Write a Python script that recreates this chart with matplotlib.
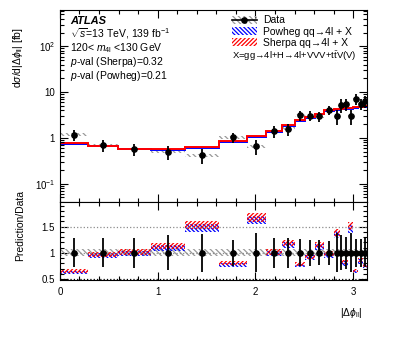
import numpy as np
import matplotlib
matplotlib.use('Agg')
import matplotlib.pyplot as plt
from matplotlib.patches import Patch
from matplotlib.lines import Line2D
from matplotlib.ticker import MultipleLocator, FuncFormatter, LogLocator, NullFormatter

plt.rcParams['font.family'] = ['Liberation Sans', 'DejaVu Sans']
plt.rcParams['mathtext.fontset'] = 'custom'
plt.rcParams['mathtext.rm'] = 'Liberation Sans'
plt.rcParams['mathtext.it'] = 'Liberation Sans:italic'
plt.rcParams['mathtext.bf'] = 'Liberation Sans:bold'
plt.rcParams['hatch.linewidth'] = 0.9

# bin edges in |dphi_ll|
edges = [0, 0.29, 0.59, 0.93, 1.28, 1.63, 1.91, 2.11, 2.27, 2.40, 2.51,
         2.61, 2.70, 2.80, 2.86, 2.90, 2.95, 3.00, 3.05, 3.10, np.pi]
data = [1.17, 0.69, 0.576, 0.50, 0.413, 1.04, 0.655, 1.39, 1.58, 3.09,
        3.05, 2.96, 4.06, 3.04, 5.24, 5.43, 3.01, 7.08, 5.53, 6.32]
stat = [0.28, 0.28, 0.29, 0.33, 0.36, 0.25, 0.37, 0.29, 0.29, 0.26,
        0.25, 0.24, 0.23, 0.37, 0.33, 0.30, 0.37, 0.27, 0.27, 0.28]
syst = [0.07] * 20
sherpa = [0.763, 0.671, 0.586, 0.565, 0.631, 0.834, 1.098, 1.414, 1.881, 2.42,
          2.858, 3.387, 4.007, 4.21, 4.373, 4.475, 4.526, 4.678, 4.78, 4.882]
powheg = [0.737, 0.649, 0.566, 0.547, 0.609, 0.806, 1.062, 1.366, 1.819, 2.34,
          2.762, 3.273, 3.873, 4.07, 4.227, 4.325, 4.374, 4.522, 4.62, 4.718]
pred_unc = 0.05

edges = np.array(edges)
data = np.array(data)
stat = np.array(stat)
syst = np.array(syst)
sherpa = np.array(sherpa)
powheg = np.array(powheg)
centers = 0.5 * (edges[1:] + edges[:-1])
widths = edges[1:] - edges[:-1]

fig = plt.figure(figsize=(3.99, 3.37), dpi=100)
ax = fig.add_axes([0.150, 0.401, 0.770, 0.569])
rx = fig.add_axes([0.150, 0.169, 0.770, 0.232], sharex=ax)

grey_hatch = '\\' * 6
blue_hatch = '\\' * 8
red_hatch = '/' * 8

# main panel
ax.bar(centers, 2 * syst * data, widths, bottom=data * (1 - syst), fill=False,
       edgecolor='0.6', linewidth=0, hatch=grey_hatch)
ax.stairs(powheg, edges, baseline=None, color='blue', lw=1.4)
ax.stairs(sherpa, edges, baseline=None, color='red', lw=1.4)
ax.errorbar(centers, data, yerr=stat * data, fmt='o', color='black', ms=3.8,
            elinewidth=1.3, capsize=0)

ax.set_yscale('log')
ax.set_ylim(0.04, 620)
ax.set_xlim(0, np.pi)
labs = {100: '$10^{2}$', 10: '10', 1: '1', 0.1: '$10^{-1}$'}
ax.yaxis.set_major_locator(LogLocator(base=10, numticks=10))
ax.yaxis.set_minor_locator(LogLocator(base=10, subs=np.arange(2, 10), numticks=20))
ax.yaxis.set_major_formatter(FuncFormatter(lambda v, p: labs.get(round(v, 3), '')))
ax.yaxis.set_minor_formatter(NullFormatter())
ax.set_ylabel('d$\\sigma$/d|$\\Delta\\phi_{\\mathrm{ll}}$| [fb]', fontsize=7.5)
ax.yaxis.set_label_coords(-0.114, 0.755)

ax.text(0.033, 0.944, 'ATLAS', transform=ax.transAxes, fontsize=8,
        fontweight='bold', fontstyle='italic', va='center')
info = ['$\\sqrt{s}$=13 TeV, 139 fb$^{-1}$',
        '120< $m_{4\\mathrm{l}}$ <130 GeV',
        '$p$-val (Sherpa)=0.32',
        '$p$-val (Powheg)=0.21']
for i, t in enumerate(info):
    ax.text(0.033, 0.878 - i * 0.074, t, transform=ax.transAxes, fontsize=7.5, va='center')

h_data = (Patch(facecolor='none', edgecolor='0.6', linewidth=0, hatch=grey_hatch),
          Line2D([], [], color='black', marker='o', ms=3.8, lw=1.2))
h_pow = Patch(facecolor='none', edgecolor='blue', linewidth=0, hatch=blue_hatch)
h_she = Patch(facecolor='none', edgecolor='red', linewidth=0, hatch=red_hatch)
ax.legend([h_data, h_pow, h_she],
          ['Data', 'Powheg qq\u21924l + X', 'Sherpa qq\u21924l + X'],
          loc='upper left', bbox_to_anchor=(0.559, 0.972), frameon=False,
          fontsize=7.5, handlelength=2.4, handleheight=0.8, handletextpad=0.6,
          labelspacing=0.12, borderpad=0, borderaxespad=0)
ax.text(0.559, 0.762, 'X=gg\u21924l+H\u21924l+VVV+t$\\bar{\\mathrm{t}}$V(V)',
        transform=ax.transAxes, fontsize=6.8, va='center')

# ratio panel
rx.axhline(1.5, ls=':', color='0.55', lw=0.9)
rx.axhline(1.0, ls=':', color='0.55', lw=0.9)
rx.axhline(0.5, ls=':', color='black', lw=0.9)
rx.bar(centers, 2 * syst, widths, bottom=1 - syst, fill=False,
       edgecolor='0.6', linewidth=0, hatch=grey_hatch)
r_pow = powheg / data
r_she = sherpa / data
rx.bar(centers, 2 * pred_unc * r_pow, widths, bottom=r_pow * (1 - pred_unc), fill=False,
       edgecolor='blue', linewidth=0, hatch=blue_hatch)
rx.bar(centers, 2 * pred_unc * r_she, widths, bottom=r_she * (1 - pred_unc), fill=False,
       edgecolor='red', linewidth=0, hatch=red_hatch)
rx.errorbar(centers, np.ones_like(data), yerr=stat, fmt='o', color='black', ms=3.8,
            elinewidth=1.3, capsize=0)
rx.set_ylim(0.48, 1.97)
rx.yaxis.set_major_locator(MultipleLocator(0.5))
rx.yaxis.set_minor_locator(MultipleLocator(0.1))
rx.yaxis.set_major_formatter(FuncFormatter(lambda v, p: '%g' % v))
rx.xaxis.set_major_locator(MultipleLocator(1))
rx.xaxis.set_minor_locator(MultipleLocator(0.2))
rx.set_ylabel('Prediction/Data', fontsize=7.5)
rx.yaxis.set_label_coords(-0.114, 0.70)
rx.set_xlabel('|$\\Delta\\phi_{\\mathrm{ll}}$|', fontsize=7.5, loc='right')
rx.xaxis.set_label_coords(0.985, -0.33)

for a in (ax, rx):
    a.tick_params(which='both', direction='in', top=True, right=True, labelsize=7)
    a.tick_params(which='major', length=6, width=0.8)
    a.tick_params(which='minor', length=3, width=0.8)
    for s in a.spines.values():
        s.set_linewidth(0.8)
ax.tick_params(labelbottom=False)
rx.tick_params(axis='x', pad=5)

fig.savefig('out.png', dpi=100)
